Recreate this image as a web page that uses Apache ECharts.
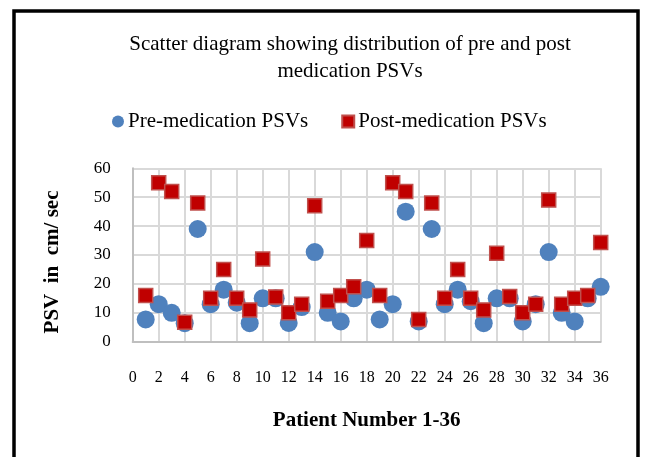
<!DOCTYPE html>
<html><head><meta charset="utf-8">
<script src="https://cdn.jsdelivr.net/npm/echarts@6/dist/echarts.min.js"></script>
<style>html,body{margin:0;padding:0;background:#fff}#c{width:646px;height:457px}</style>
</head><body><div id="c"></div>
<script>
const patients = [1,2,3,4,5,6,7,8,9,10,11,12,13,14,15,16,17,18,19,20,21,22,23,24,25,26,27,28,29,30,31,32,33,34,35,36];
const prePSV  = [7.7,13,10,6.4,39,13,18,13.5,6.4,15,15,6.5,12,31,10,7,15,18,7.7,13,45,7,39,13,18,14,6.4,15,15,7,13,31,10,7,15,19];
const postPSV = [16,55,52,6.7,48,15,25,15,11,28.6,15.5,10,13,47,14,16,19,35,16,55,52,7.7,48,15,25,15,11,30.6,15.6,10,13,49,13,15,16,34.3];
const xTicks = {min:0, max:36, step:2};
const yTicks = {min:0, max:60, step:10};
const titleLines = ['Scatter diagram showing distribution of pre and post','medication PSVs'];
const seriesNames = ['Pre-medication PSVs','Post-medication PSVs'];

const F = '"Liberation Serif","Times New Roman",serif';
const chart = echarts.init(document.getElementById('c'), null, {renderer:'canvas'});
chart.setOption({
  animation:false,
  backgroundColor:'#fff',
  title:{text:titleLines.join('\n'), left:345, top:26, textAlign:'center',
    textStyle:{fontFamily:F, fontSize:21, fontWeight:'normal', color:'#000', lineHeight:27}},
  legend:{top:106, left:107, itemWidth:12, itemHeight:12, itemGap:33,
    textStyle:{fontFamily:F, fontSize:21, color:'#000', padding:[0,0,0,-1]},
    data:[{name:seriesNames[0], icon:'circle'},{name:seriesNames[1], icon:'rect'}]},
  grid:{left:132.7, right:45.3, top:168.3, bottom:115.3, containLabel:false},
  xAxis:{type:'value', min:xTicks.min, max:xTicks.max, interval:xTicks.step,
    name:'Patient Number 1-36', nameLocation:'middle', nameGap:68,
    nameTextStyle:{fontFamily:F, fontSize:21, fontWeight:'bold', color:'#000'},
    axisLine:{show:true, lineStyle:{color:'#bfbfbf', width:2}},
    axisTick:{show:false},
    axisLabel:{fontFamily:F, fontSize:16, color:'#000', margin:28},
    splitLine:{show:true, lineStyle:{color:'#d9d9d9', width:2}}},
  yAxis:{type:'value', min:yTicks.min, max:yTicks.max, interval:yTicks.step,
    name:'PSV  in  cm/ sec', nameLocation:'middle', nameGap:70, nameRotate:90,
    nameTextStyle:{fontFamily:F, fontSize:21, fontWeight:'bold', color:'#000', padding:[0,0,0,-14]},
    axisLine:{show:true, lineStyle:{color:'#bfbfbf', width:2}},
    axisTick:{show:false},
    axisLabel:{fontFamily:F, fontSize:17, color:'#000', margin:22},
    splitLine:{show:true, lineStyle:{color:'#d9d9d9', width:2}}},
  series:[
    {name:seriesNames[0], type:'scatter', symbol:'circle', symbolSize:18,
      itemStyle:{color:'#4f81bd', opacity:1},
      data:patients.map((p,i)=>[p,prePSV[i]])},
    {name:seriesNames[1], type:'scatter', symbol:'rect', symbolSize:14,
      itemStyle:{color:'#c00000', borderColor:'#c0504d', borderWidth:1.5, opacity:1},
      data:patients.map((p,i)=>[p,postPSV[i]])}
  ],
  graphic:[{type:'rect', shape:{x:14, y:11, width:624, height:460},
    style:{fill:'none', stroke:'#000', lineWidth:3.5}, silent:true}]
});
</script></body></html>
